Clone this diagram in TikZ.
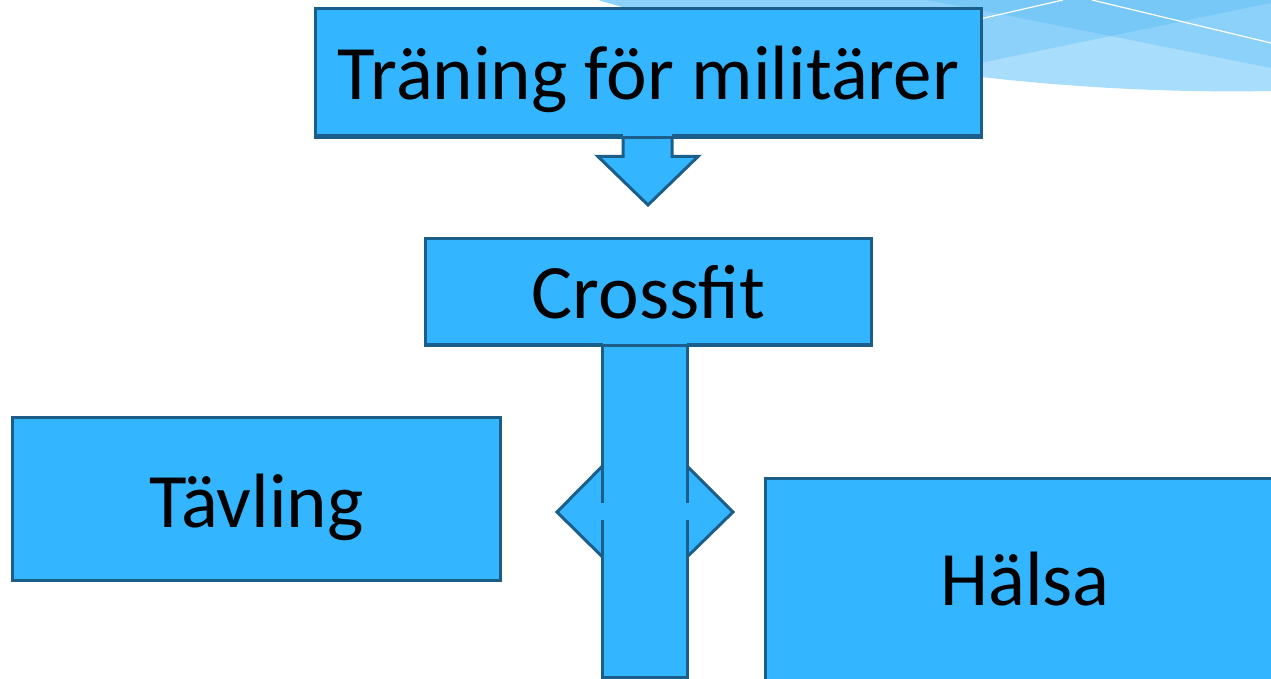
\documentclass[tikz,border=0pt]{standalone}
\usepackage{fontspec}
\setmainfont{Carlito}
\usetikzlibrary{calc}
\definecolor{boxfill}{RGB}{51,181,255}
\definecolor{boxline}{RGB}{27,94,137}
\definecolor{wave}{RGB}{168,221,251}
\definecolor{waveov}{RGB}{70,180,245}
\tikzset{
  box/.style={draw=boxline, fill=boxfill, line width=3pt, rectangle, inner sep=0pt},
  lbl/.style={anchor=base, inner sep=0pt, font=\fontsize{77}{80}\selectfont, text=black},
  edge/.style={draw=boxline, line width=3pt, line join=miter},
}
\begin{document}
\begin{tikzpicture}[x=1pt,y=-1pt]
\useasboundingbox (0,0) rectangle (1271,679);
\clip (0,0) rectangle (1271,679);
% decoration top right
\begin{scope}
  \path[clip] (598,0) .. controls (760,48) and (1000,96) .. (1271,91) -- (1271,0) -- cycle;
  \fill[wave] (598,0) .. controls (760,48) and (1000,96) .. (1271,91) -- (1271,0) -- cycle;
  \fill[waveov, fill opacity=0.28] (600,-60) -- (980,10) -- (1271,68) -- (1271,-10) -- cycle;
  \fill[waveov, fill opacity=0.28] (600,140) -- (980,63) -- (1271,3) -- (1271,-10) -- (600,-10) -- cycle;
  \draw[white, line width=1.2pt] (900,38) -- (980,19) -- (1063,0);
  \draw[white, line width=1.2pt] (1092,0) -- (1271,43);
\end{scope}
% boxes
\node[box, minimum width=666pt, minimum height=127pt] (top) at (648,72.5) {};
\node[box, minimum width=446pt, minimum height=106pt] (cf) at (648,291) {};
\node[box, minimum width=488pt, minimum height=163pt] (tav) at (256,498.5) {};
\node[box, minimum width=520pt, minimum height=230pt] (hal) at (1025,593) {};
% down arrow from top to cf
\coordinate (dtip) at (648,205);
\fill[boxfill] ($(top.south)+(-25,-4)$) -- ++(0,23) -- ++(-25,0) -- (dtip) -- ($(top.south)+(50,19)$) -- ++(-26,0) -- ($(top.south)+(24,-4)$) -- cycle;
\draw[edge] ($(top.south)+(-25,0)$) -- ++(0,19) -- ++(-25,0) -- (dtip) -- ($(top.south)+(50,19)$) -- ++(-26,0) -- ($(top.south)+(24,0)$);
\draw[boxline, line width=3pt] (top.south west) -- (top.south east);
% vertical bar below cf with double arrow
\coordinate (vbl) at (602.5,344);
\coordinate (vbr) at (687,344);
\coordinate (ltip) at (557,512);
\coordinate (rtip) at (733,512);
\fill[boxfill] (ltip) -- (602.5,466) -- (687,466) -- (rtip) -- (687,557) -- (602.5,557) -- cycle;
\fill[boxfill] (602.5,340) rectangle (687,677);
\draw[edge] (602.5,466) -- (ltip) -- (602.5,557);
\draw[edge] (687,466) -- (rtip) -- (687,557);
\draw[boxline, line width=3pt] (602.5,677) -- (687,677);
\draw[boxline, line width=3pt] (vbl) -- (602.5,503) (602.5,520) -- (602.5,678.5);
\draw[boxline, line width=3pt] (vbr) -- (687,503) (687,520) -- (687,678.5);
\draw[boxline, line width=3pt] (cf.south west) -- (cf.south east);
% labels
\node[lbl] (t1) at (648.5,100) {Träning för militärer};
\node[lbl] (t2) at (648.5,318) {Crossfit};
\node[lbl] (t3) at (256.5,527) {Tävling};
\node[lbl] (t4) at (1025,605) {Hälsa};
\end{tikzpicture}
\end{document}
